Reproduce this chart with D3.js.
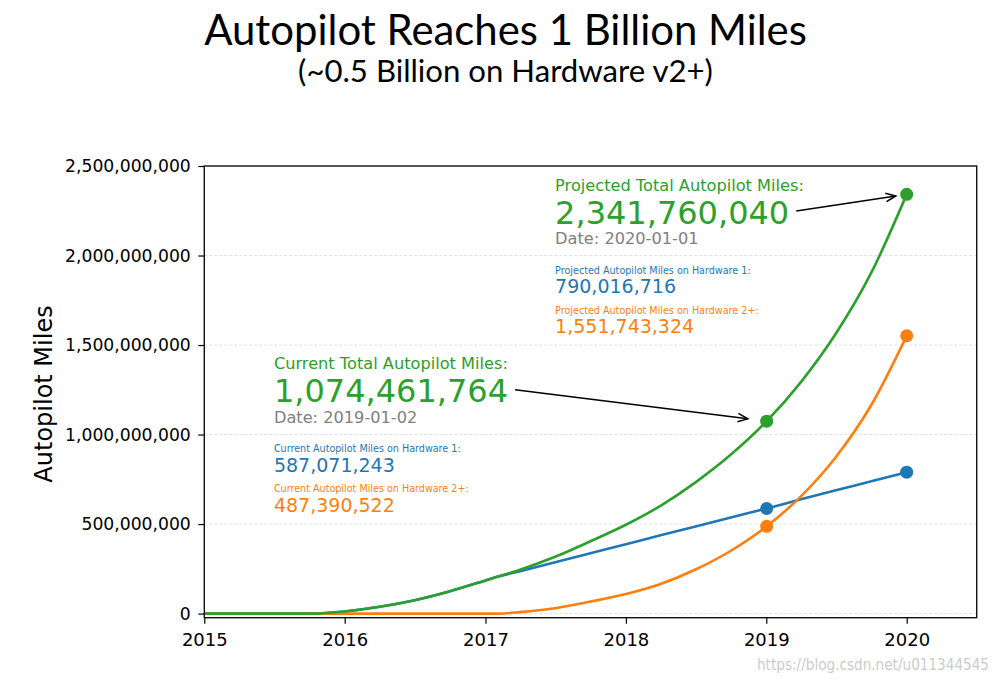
<!DOCTYPE html>
<html>
<head>
<meta charset="utf-8">
<script src="https://cdn.jsdelivr.net/npm/d3@7"></script>
<style>
  html, body { margin: 0; padding: 0; background: #fff; }
  svg { display: block; }
</style>
</head>
<body>
<svg id="chart" width="1003" height="683"></svg>
<script>
// ---------------- data ----------------
const titleText = "Autopilot Reaches 1 Billion Miles";
const subtitleText = "(~0.5 Billion on Hardware v2+)";
const yAxisTitle = "Autopilot Miles";
const watermark = "https://blog.csdn.net/u011344545";

const dates = ["2015-01-01","2015-04-01","2015-07-01","2015-10-15","2016-01-01","2016-04-01","2016-07-01","2016-10-01",
  "2017-01-01","2017-02-05","2017-04-01","2017-07-01","2017-10-01","2018-01-01","2018-04-01","2018-07-01","2018-10-01",
  "2019-01-02","2019-04-01","2019-07-01","2019-10-01","2020-01-01"];
// miles (millions)
const hw1Miles = [0,0,0,0,12,38,75,125,185,208,237,287,337,387,437,487,537,587.071243,638,689,739,790.016716];
const hw2Miles = [0,0,0,0,0,0,0,0,0,0,8,30,67,109,165,246,351,487.390522,655,875,1165,1551.743324];
const totalMiles = [0,0,0,0,12,38,75,125,185,208,245,317,404,496,602,733,888,1074.461764,1293,1564,1904,2341.760040];

const xTickYears = ["2015","2016","2017","2018","2019","2020"];
const yTickValues = [0, 500e6, 1000e6, 1500e6, 2000e6, 2500e6];
const markerDates = ["2019-01-02","2020-01-01"];

const annotations = [
  { kind: "Projected", date: "2020-01-01", textDate: "2017-07-01", textValue: 2363e6, shrink: 11 },
  { kind: "Current",   date: "2019-01-02", textDate: "2015-07-01", textValue: 1365e6, shrink: 19 }
];

// ---------------- setup ----------------
const C = { hw1: "#1f77b4", hw2: "#ff7f0e", total: "#2ca02c", date: "#808080" };
const parse = d3.utcParse("%Y-%m-%d");
const svg = d3.select("#chart");
svg.append("rect").attr("width", 1003).attr("height", 683).attr("fill", "#fff");

const L = 204.3, R = 976.7, T = 166, B = 617.7;
const x = d3.scaleUtc().domain([parse("2015-01-01"), parse("2020-07-01")]).range([L, R]);
const y = d3.scaleLinear().domain([-23e6, 2500e6]).range([B, T]);

const series = [
  { key: "hw1", vals: hw1Miles, color: C.hw1 },
  { key: "hw2", vals: hw2Miles, color: C.hw2 },
  { key: "total", vals: totalMiles, color: C.total }
].map(s => ({ ...s, pts: dates.map((d, i) => ({ date: parse(d), ds: d, v: s.vals[i] * 1e6 })) }));

// ---------------- title ----------------
function fitText(sel, target) {
  const base = 40;
  sel.attr("font-size", base);
  const len = sel.node().getComputedTextLength();
  sel.attr("font-size", base * target / len);
}
const t1 = svg.append("text").attr("x", 505.5).attr("y", 45).attr("text-anchor", "middle")
  .attr("font-family", "Lato, 'Open Sans', sans-serif").attr("fill", "#000").text(titleText);
fitText(t1, 603);
const t2 = svg.append("text").attr("x", 505.5).attr("y", 82).attr("text-anchor", "middle")
  .attr("font-family", "Lato, 'Open Sans', sans-serif").attr("fill", "#000").text(subtitleText);
fitText(t2, 415);

// ---------------- grid ----------------
svg.append("g").selectAll("line").data(yTickValues.filter(v => v < 2500e6)).join("line")
  .attr("x1", L).attr("x2", R).attr("y1", d => y(d)).attr("y2", d => y(d))
  .attr("stroke", "#d9d9d9").attr("stroke-width", 0.8).attr("stroke-dasharray", "3,2");

// ---------------- axes ----------------
const fmt = d3.format(",");
const yAxis = svg.append("g").attr("transform", `translate(${L},0)`)
  .call(d3.axisLeft(y).tickValues(yTickValues).tickFormat(fmt).tickSize(6).tickPadding(7.5));
yAxis.select(".domain").remove();
yAxis.selectAll("text").attr("font-family", "'DejaVu Sans', sans-serif").attr("font-size", 17.2).attr("fill", "#000");
yAxis.selectAll("line").attr("stroke", "#000").attr("stroke-width", 1.2);

const xAxis = svg.append("g").attr("transform", `translate(0,${B})`)
  .call(d3.axisBottom(x).tickValues(xTickYears.map(yv => parse(yv + "-01-01"))).tickFormat(d3.utcFormat("%Y")).tickSize(6).tickPadding(9.5));
xAxis.select(".domain").remove();
xAxis.selectAll("text").attr("font-family", "'DejaVu Sans', sans-serif").attr("font-size", 18).attr("fill", "#000");
xAxis.selectAll("line").attr("stroke", "#000").attr("stroke-width", 1.2);

svg.append("text").attr("transform", "translate(44,394) rotate(-90)")
  .attr("text-anchor", "middle").attr("dominant-baseline", "central")
  .attr("font-family", "'DejaVu Sans', sans-serif").attr("font-size", 24).attr("fill", "#000")
  .text(yAxisTitle);

// ---------------- lines ----------------
const line = d3.line().x(d => x(d.date)).y(d => y(d.v)).curve(d3.curveMonotoneX);
const gLines = svg.append("g");
series.forEach(s => {
  gLines.append("path").datum(s.pts).attr("d", line).attr("fill", "none")
    .attr("stroke", s.color).attr("stroke-width", 2.6).attr("stroke-linejoin", "round");
});
series.forEach(s => {
  gLines.selectAll(null).data(s.pts.filter(p => markerDates.includes(p.ds))).join("circle")
    .attr("cx", d => x(d.date)).attr("cy", d => y(d.v)).attr("r", 6.5).attr("fill", s.color);
});

// ---------------- spines ----------------
svg.append("rect").attr("x", L).attr("y", T).attr("width", R - L).attr("height", B - T)
  .attr("fill", "none").attr("stroke", "#111").attr("stroke-width", 1.4);

// ---------------- annotations ----------------
const font = "'DejaVu Sans', sans-serif";
annotations.forEach(a => {
  const idx = dates.indexOf(a.date);
  const tot = Math.round(totalMiles[idx] * 1e6);
  const h1 = Math.round(hw1Miles[idx] * 1e6);
  const h2 = Math.round(hw2Miles[idx] * 1e6);
  const ax = x(parse(a.textDate)), ay = y(a.textValue);
  const g = svg.append("g").attr("font-family", font);
  g.append("text").attr("x", ax).attr("y", ay).attr("font-size", 16.2).attr("fill", C.total)
    .text(`${a.kind} Total Autopilot Miles:`);
  const big = g.append("text").attr("x", ax).attr("y", ay + 33).attr("font-size", 32).attr("fill", C.total)
    .text(fmt(tot));
  g.append("text").attr("x", ax).attr("y", ay + 53.5).attr("font-size", 16.2).attr("fill", C.date)
    .text(`Date: ${a.date}`);
  g.append("text").attr("x", ax).attr("y", ay + 83).attr("font-size", 9.6).attr("fill", C.hw1)
    .text(`${a.kind} Autopilot Miles on Hardware 1:`);
  g.append("text").attr("x", ax).attr("y", ay + 102.3).attr("font-size", 19).attr("fill", C.hw1)
    .text(fmt(h1));
  g.append("text").attr("x", ax).attr("y", ay + 123).attr("font-size", 9.6).attr("fill", C.hw2)
    .text(`${a.kind} Autopilot Miles on Hardware 2+:`);
  g.append("text").attr("x", ax).attr("y", ay + 142.6).attr("font-size", 19).attr("fill", C.hw2)
    .text(fmt(h2));

  // arrow
  const sx = ax + big.node().getComputedTextLength() + 7;
  const sy = ay + 33 - 12.5;
  const mx = x(parse(a.date)), my = y(tot);
  const dx = mx - sx, dy = my - sy, dl = Math.hypot(dx, dy);
  const ux = dx / dl, uy = dy / dl;
  const tx = mx - ux * a.shrink, ty = my - uy * a.shrink;
  g.append("line").attr("x1", sx).attr("y1", sy).attr("x2", tx).attr("y2", ty)
    .attr("stroke", "#000").attr("stroke-width", 1.5);
  const hl = 10, hw = 4.2;
  const bx = tx - ux * hl, by = ty - uy * hl;
  g.append("path")
    .attr("d", `M${bx - uy * hw},${by + ux * hw}L${tx},${ty}L${bx + uy * hw},${by - ux * hw}`)
    .attr("fill", "none").attr("stroke", "#000").attr("stroke-width", 1.5);
});

// ---------------- watermark ----------------
svg.append("text").attr("x", 757).attr("y", 670).attr("font-size", 16)
  .attr("font-family", "'Liberation Sans Narrow', 'DejaVu Sans Condensed', 'Liberation Sans', sans-serif")
  .attr("fill", "#cccccc").attr("textLength", 232).attr("lengthAdjust", "spacingAndGlyphs")
  .text(watermark);
</script>
</body>
</html>
